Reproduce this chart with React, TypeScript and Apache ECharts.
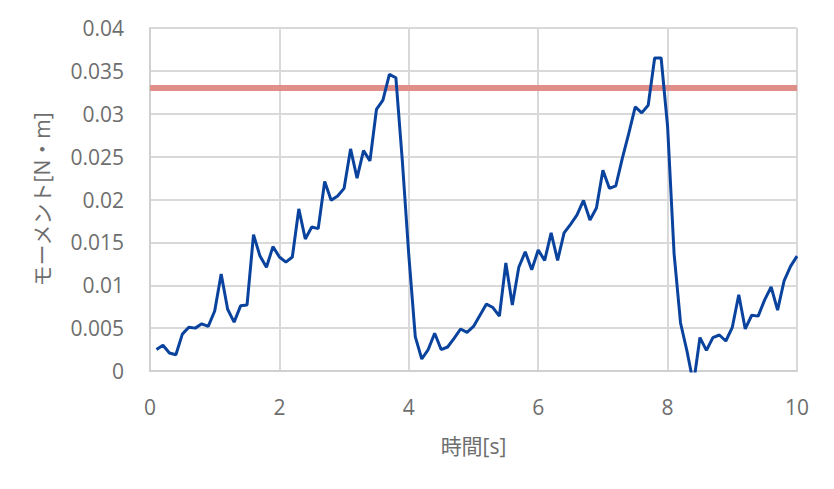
import React, { useEffect, useRef } from "react";
import * as echarts from "echarts";

const stepCount = 100;
const moment = [
  0.0025, 0.003, 0.0021, 0.0019, 0.0043, 0.0051, 0.005, 0.0055, 0.0052, 0.007,
  0.0113, 0.0072, 0.0057, 0.0076, 0.0077, 0.0159, 0.0134, 0.0121, 0.0145, 0.0133,
  0.0127, 0.0133, 0.0189, 0.0154, 0.0168, 0.0166, 0.0221, 0.0199, 0.0204, 0.0213,
  0.0259, 0.0225, 0.0257, 0.0245, 0.0305, 0.0316, 0.0346, 0.0342, 0.0245, 0.0135,
  0.004, 0.0014, 0.0025, 0.0044, 0.0025, 0.0028, 0.0038, 0.0049, 0.0045, 0.0052,
  0.0065, 0.0078, 0.0074, 0.0064, 0.0126, 0.0077, 0.0121, 0.0139, 0.0118, 0.0141,
  0.0129, 0.0161, 0.0129, 0.0161, 0.0171, 0.0182, 0.0199, 0.0176, 0.019, 0.0234,
  0.0213, 0.0216, 0.0248, 0.0277, 0.0308, 0.0301, 0.031, 0.0365, 0.0365, 0.0285,
  0.0137, 0.0056, 0.0023, -0.0015, 0.0039, 0.0024, 0.0039, 0.0042, 0.0035, 0.0051,
  0.0089, 0.0049, 0.0065, 0.0064, 0.0083, 0.0098, 0.0071, 0.0105, 0.0122, 0.0134,
];
const times = Array.from({ length: stepCount }, (_, i) => (i + 1) / 10);
const thresholdValue = 0.033;
const thresholdTimes = [0, 10];

const xName = "時間[s]";
const yName = "モーメント[N・m]";

const textColor = "#6e6e6e";
const font = "'Open Sans', 'Noto Sans CJK JP', sans-serif";

export default function App() {
  const ref = useRef<HTMLDivElement>(null);
  useEffect(() => {
    document.body.style.margin = "0";
    if (!ref.current) return;
    const chart = echarts.init(ref.current, undefined, { renderer: "svg" });
    chart.setOption({
      animation: false,
      backgroundColor: "#ffffff",
      grid: { left: 150, right: 37, top: 28, bottom: 118, containLabel: false },
      xAxis: {
        type: "value",
        min: 0,
        max: 10,
        interval: 2,
        name: xName,
        nameLocation: "middle",
        nameGap: 64,
        nameTextStyle: { color: textColor, fontSize: 21, fontFamily: font },
        axisLine: { show: true, lineStyle: { color: "#d0d0d0", width: 2 } },
        axisTick: { show: false },
        axisLabel: { color: textColor, fontSize: 21, fontFamily: font, margin: 25 },
        splitLine: { show: true, lineStyle: { color: "#d9d9d9", width: 2 } },
      },
      yAxis: {
        type: "value",
        min: 0,
        max: 0.04,
        interval: 0.005,
        name: yName,
        nameLocation: "middle",
        nameGap: 98,
        nameTextStyle: { color: textColor, fontSize: 21, fontFamily: font },
        axisLine: { show: true, lineStyle: { color: "#d0d0d0", width: 2 } },
        axisTick: { show: false },
        axisLabel: {
          color: textColor,
          fontSize: 21,
          fontFamily: font,
          margin: 26,
          formatter: (v: number) => String(+v.toFixed(3)),
        },
        splitLine: { show: true, lineStyle: { color: "#d9d9d9", width: 2 } },
      },
      series: [
        {
          type: "line",
          data: thresholdTimes.map((t) => [t, thresholdValue]),
          symbol: "none",
          lineStyle: { color: "#e08e88", width: 6 },
          z: 2,
        },
        {
          type: "line",
          data: times.map((t, i) => [t, moment[i]]),
          symbol: "none",
          clip: true,
          lineStyle: { color: "#0a439e", width: 3 },
          z: 3,
        },
      ],
    });
    return () => chart.dispose();
  }, []);
  return <div ref={ref} style={{ width: 834, height: 489 }} />;
}
